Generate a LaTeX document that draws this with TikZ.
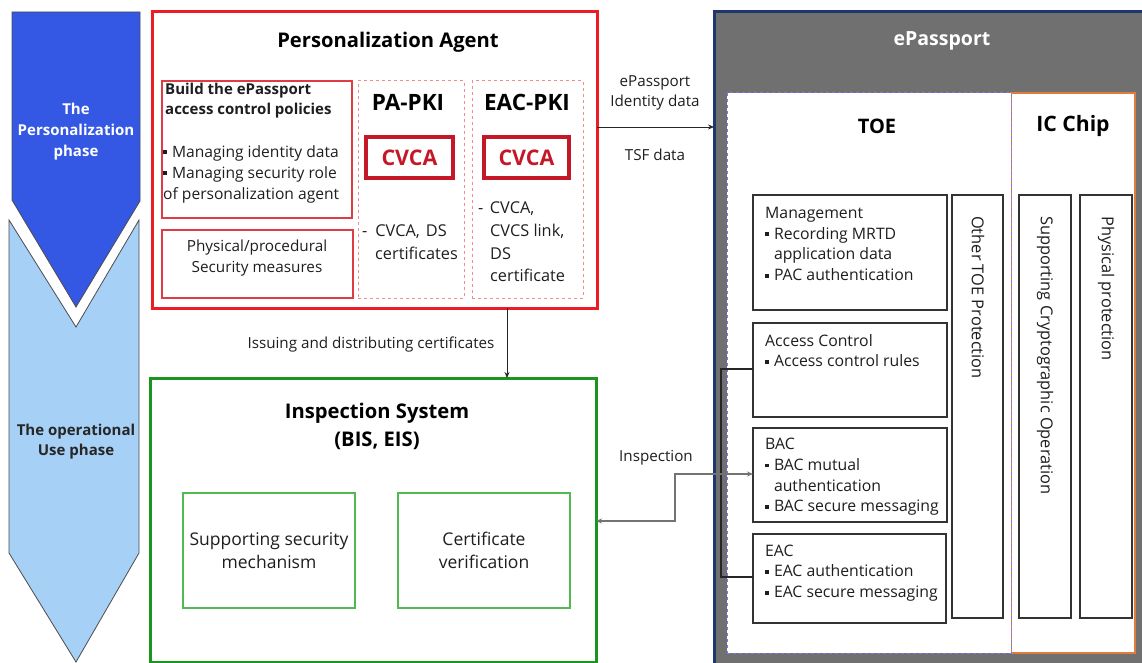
\documentclass[tikz,border=0pt]{standalone}
\usepackage{fontspec}
\setmainfont{Open Sans}
\usetikzlibrary{arrows.meta}
\definecolor{pblue}{RGB}{52,88,228}
\definecolor{lblue}{RGB}{166,208,245}
\definecolor{pared}{RGB}{236,28,36}
\definecolor{inred}{RGB}{222,60,66}
\definecolor{dashred}{RGB}{240,140,140}
\definecolor{cvred}{RGB}{196,24,40}
\definecolor{isgreen}{RGB}{26,150,30}
\definecolor{ingreen}{RGB}{80,185,80}
\definecolor{epgray}{RGB}{112,112,112}
\definecolor{epblue}{RGB}{30,55,110}
\definecolor{toeblue}{RGB}{120,120,240}
\definecolor{icorange}{RGB}{224,124,60}
\definecolor{txtc}{RGB}{30,30,30}
\newcommand\sqb{\raisebox{3pt}{\rule{3.8pt}{3.8pt}}\hspace{5pt}}
\newcommand\ind{\hspace*{8.8pt}}
\begin{document}
\begin{tikzpicture}[x=1pt,y=-1pt,
  box/.style={anchor=north west, inner sep=0pt, outer sep=0pt},
  txt/.style={inner sep=0pt, align=left, text=txtc, font=\fontsize{15.8}{20.7}\selectfont},
  ctxt/.style={inner sep=0pt, align=center, text=txtc, font=\fontsize{15.3}{20.5}\selectfont},
  small/.style={inner sep=0pt, align=center, text=txtc, font=\fontsize{15.2}{20}\selectfont},
  bigtitle/.style={inner sep=0pt, align=center, text=black, font=\fontsize{20.2}{28}\selectfont\bfseries},
  pkititle/.style={inner sep=0pt, text=black, font=\fontsize{22.5}{24}\selectfont\bfseries},
  pabox/.style={box, draw=pared, line width=3pt},
  redbox/.style={box, draw=inred, line width=1.2pt},
  dredbox/.style={box, draw=dashred, line width=1pt, dashed},
  cvbox/.style={box, draw=cvred, line width=3.2pt},
  cvtxt/.style={inner sep=0pt, text=cvred, font=\fontsize{21.5}{24}\selectfont\bfseries},
  gbox/.style={box, draw=isgreen, line width=3pt},
  lgbox/.style={box, draw=ingreen, line width=1.6pt},
  blkbox/.style={box, draw=black!80, line width=1.3pt, fill=white},
  vtxt/.style={inner sep=0pt, rotate=-90, anchor=west, text=txtc, font=\fontsize{16.4}{18}\selectfont},
  arr/.style={-{Stealth[length=6pt,width=5pt]}, line width=0.8pt, draw=black!85},
  insp/.style={{Stealth[length=6pt,width=5pt]}-{Stealth[length=6pt,width=5pt]}, line width=1.3pt, draw=black!55},
  brk/.style={line width=1.2pt, draw=black!85}
]
\useasboundingbox (0,0) rectangle (1142,663);

% phase chevrons
\draw[draw=black!70, line width=0.8pt, fill=pblue] (12,12) -- (140,12) -- (140,201) -- (76,307) -- (12,200) -- cycle;
\draw[draw=black!70, line width=0.8pt, fill=lblue] (9,220) -- (76,327) -- (139,220) -- (139,553) -- (76,662) -- (9,553) -- cycle;
\node[inner sep=0pt, align=center, text=white, font=\fontsize{15}{21}\selectfont\bfseries] (ph1) at (76,132) {The\\Personalization\\phase};
\node[inner sep=0pt, align=center, text=black!85, font=\fontsize{15}{20}\selectfont\bfseries] (ph2) at (76,442) {The operational\\Use phase};

% Personalization Agent
\node[pabox, minimum width=445, minimum height=296] (pa) at (152,12) {};
\node[bigtitle] (patitle) at (388,42) {Personalization Agent};
\node[redbox, minimum width=190, minimum height=137] (b1) at (162,81) {};
\node[txt, anchor=west, font=\fontsize{15}{20}\selectfont\bfseries] (b1h) at (165,101) {Build the ePassport\\access control policies};
\node[txt, anchor=west, font=\fontsize{15.6}{21}\selectfont] (b1t) at (163,174) {\sqb Managing identity data\\\sqb Managing security role\\of personalization agent};
\node[redbox, minimum width=191, minimum height=68] (b2) at (162,230) {};
\node[ctxt] (b2t) at (257,258) {Physical/procedural\\Security measures};
\node[dredbox, minimum width=106, minimum height=217] (papki) at (358,81) {};
\node[pkititle] (papkit) at (408,102) {PA-PKI};
\node[cvbox, minimum width=87, minimum height=41] (cv1) at (366,137) {};
\node[cvtxt] (cv1t) at (cv1.center) {CVCA};
\node[txt, anchor=west, font=\fontsize{16.3}{22.5}\selectfont] (pat) at (362,242) {-\hspace*{8pt}CVCA,\hspace*{6pt}DS\\\hspace*{13pt}certificates};
\node[dredbox, minimum width=111, minimum height=217] (eacpki) at (472,81) {};
\node[pkititle] (eacpkit) at (527,102) {EAC-PKI};
\node[cvbox, minimum width=85, minimum height=41] (cv2) at (484,137) {};
\node[cvtxt] (cv2t) at (cv2.center) {CVCA};
\node[txt, anchor=west, font=\fontsize{16.3}{22.7}\selectfont] (eact) at (478,242) {-\hspace*{6.5pt}CVCA,\\\hspace*{12pt}CVCS link,\\\hspace*{12pt}DS\\\hspace*{12pt}certificate};

% Inspection system
\node[gbox, minimum width=446, minimum height=284] (is) at (150,378) {};
\node[bigtitle] (istitle) at (377,426) {Inspection System\\(BIS, EIS)};
\node[lgbox, minimum width=172, minimum height=115] (ssm) at (183,493) {};
\node[ctxt, font=\fontsize{17.5}{23}\selectfont] (ssmt) at (ssm.center) {Supporting security\\mechanism};
\node[lgbox, minimum width=172, minimum height=115] (cver) at (398,493) {};
\node[ctxt, font=\fontsize{17.5}{23}\selectfont] (cvert) at (cver.center) {Certificate\\verification};

% ePassport
\node[box, fill=epgray, draw=epblue, line width=3pt, minimum width=440, minimum height=660] (ep) at (714,12) {};
\node[inner sep=0pt, text=white, font=\fontsize{19.5}{22}\selectfont\bfseries] (eptitle) at (942,41) {ePassport};
\node[box, fill=white, draw=icorange, line width=1.2pt, minimum width=124, minimum height=560] (ic) at (1011,93) {};
\node[box, fill=white, draw=toeblue, line width=1pt, dashed, minimum width=284, minimum height=560] (toe) at (727,93) {};
\node[inner sep=0pt, font=\fontsize{20}{24}\selectfont\bfseries] (toet) at (877,126) {TOE};
\node[inner sep=0pt, font=\fontsize{21.2}{24}\selectfont\bfseries] (ict) at (1073,126) {IC Chip};

\node[blkbox, minimum width=194, minimum height=115] (mg) at (753,195) {};
\node[txt, anchor=west] (mgt) at (765,244) {Management\\\sqb Recording MRTD\\\ind application data\\\sqb PAC authentication};
\node[blkbox, minimum width=194, minimum height=94] (ac) at (753,323) {};
\node[txt, anchor=west] (act) at (765,350.5) {Access Control\\\sqb Access control rules};
\node[blkbox, minimum width=194, minimum height=94] (bac) at (753,428) {};
\node[txt, anchor=west] (bact) at (765,477) {BAC\\\sqb BAC mutual\\\ind authentication\\\sqb BAC secure messaging};
\node[blkbox, minimum width=193, minimum height=89] (eac) at (753,534) {};
\node[txt, anchor=west] (eact2) at (765,573) {EAC\\\sqb EAC authentication\\\sqb EAC secure messaging};

\node[blkbox, minimum width=51, minimum height=423] (otp) at (952,195) {};
\node[vtxt] (otpt) at (978,216) {Other TOE Protection};
\node[blkbox, minimum width=52, minimum height=423] (sco) at (1019,195) {};
\node[vtxt] (scot) at (1045,216) {Supporting Cryptographic Operation};
\node[blkbox, minimum width=52, minimum height=423] (pp) at (1080,195) {};
\node[vtxt] (ppt) at (1106,216) {Physical protection};

% connectors
\coordinate (yA) at (0,127);
\coordinate (xI) at (507,0);
\coordinate (yB) at (0,369);
\coordinate (yE) at (0,577);
\coordinate (yBac) at (0,474);
\coordinate (yIs) at (0,521);
\coordinate (bend1) at (675,521);
\coordinate (bend2) at (675,474);
\coordinate (br1) at (721,369);
\coordinate (br2) at (721,577);

\draw[arr] (pa.east |- yA) -- (ep.west |- yA);
\node[small] (lab1) at (655,93) {ePassport\\Identity data};
\node[small] (lab2) at (655,155) {TSF data};

\draw[arr] (pa.south -| xI) -- (is.north -| xI);
\node[small] (lab3) at (371,345) {Issuing and distributing certificates};

\draw[brk] (ac.west |- yB) -- (br1) -- (br2) -- (eac.west |- yE);
\draw[insp] (is.east |- yIs) -- (bend1) -- (bend2) -- (bac.west |- yBac);
\node[small] (lab4) at (656,458) {Inspection};
\end{tikzpicture}
\end{document}
